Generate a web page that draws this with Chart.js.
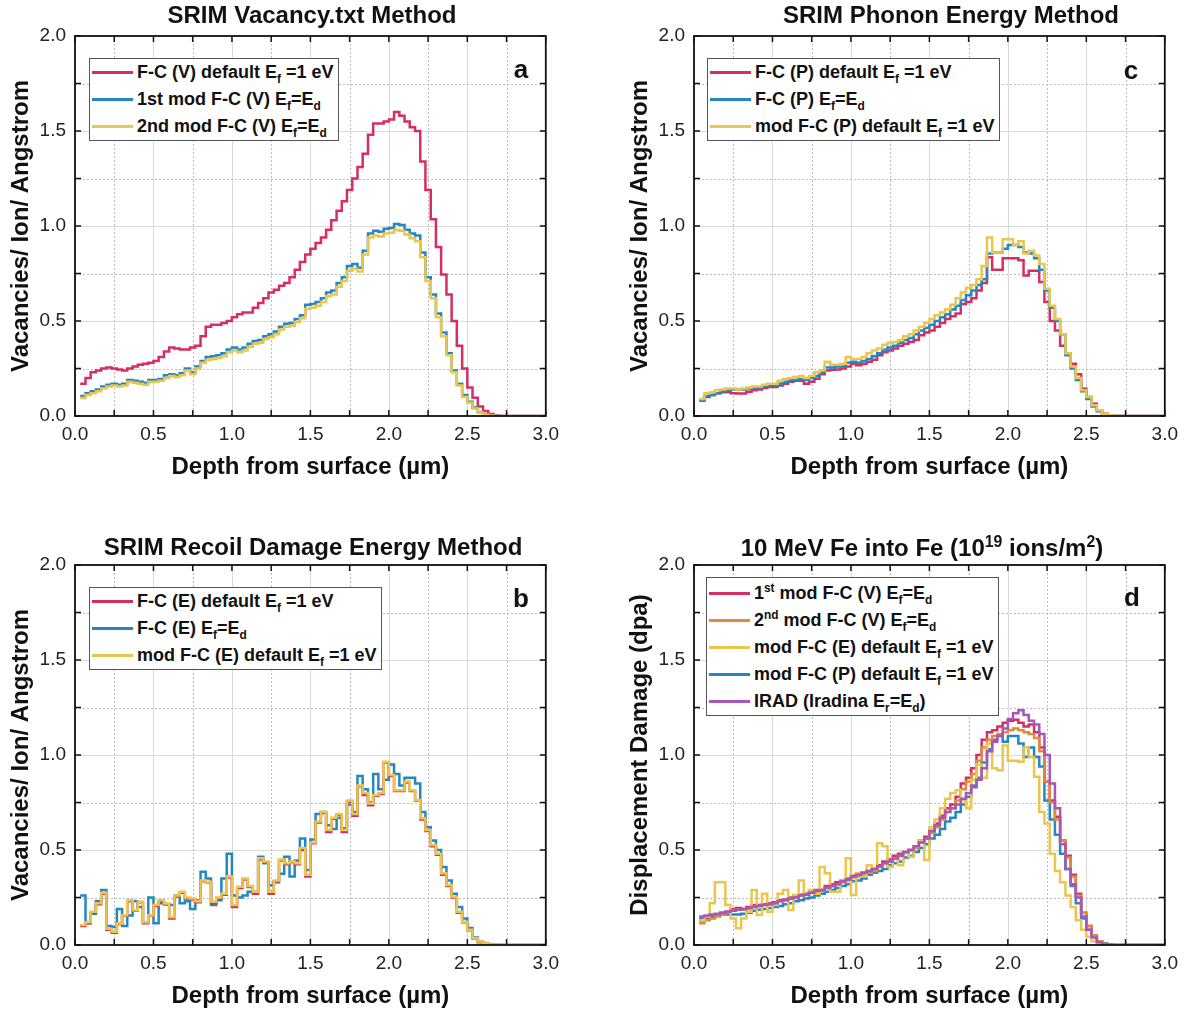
<!DOCTYPE html>
<html>
<head>
<meta charset="utf-8">
<script src="https://cdn.jsdelivr.net/npm/chart.js@4.4.1/dist/chart.umd.min.js"></script>
<style>
html, body { margin: 0; padding: 0; background: #fff; overflow: hidden; }
body { width: 1185px; height: 1014px; position: relative; font-family: "Liberation Sans", Arial, sans-serif; }
.panel { position: absolute; width: 566px; height: 485px; }
.panel canvas { position: absolute; left: 0; top: 0; }
.ptitle { position: absolute; font-weight: bold; font-size: 24px; color: #111; white-space: nowrap; transform: translate(-50%, -50%); }
.legend { position: absolute; border: 1px solid #555; background: #fff; box-sizing: border-box; padding-right: 4px; }
.row { height: 27px; display: flex; align-items: center; white-space: nowrap; font-weight: bold; font-size: 18px; color: #111; }
.sw { display: inline-block; width: 41px; height: 3px; margin: 0 4px 0 2px; flex: none; }
sub, sup { font-size: 66%; line-height: 0; }
.letter { position: absolute; font-weight: bold; font-size: 26px; color: #111; transform: translate(-50%, -50%); }
</style>
</head>
<body>
<div class="panel" id="pa" style="left:0;top:0"><canvas id="ca" width="566" height="485"></canvas></div>
<div class="panel" id="pc" style="left:619px;top:0"><canvas id="cc" width="566" height="485"></canvas></div>
<div class="panel" id="pb" style="left:0;top:529px"><canvas id="cb" width="566" height="485"></canvas></div>
<div class="panel" id="pd" style="left:619px;top:529px"><canvas id="cd" width="566" height="485"></canvas></div>

<script>
// depth bins (um), bin start values, last point closes the histogram at 3.0
const DEPTH = [
  0.033, 0.067, 0.100, 0.133, 0.167, 0.200, 0.233, 0.267, 0.300, 0.333,
  0.367, 0.400, 0.433, 0.467, 0.500, 0.533, 0.567, 0.600, 0.633, 0.667,
  0.700, 0.733, 0.767, 0.800, 0.833, 0.867, 0.900, 0.933, 0.967, 1.000,
  1.033, 1.067, 1.100, 1.133, 1.167, 1.200, 1.233, 1.267, 1.300, 1.333,
  1.367, 1.400, 1.433, 1.467, 1.500, 1.533, 1.567, 1.600, 1.633, 1.667,
  1.700, 1.733, 1.767, 1.800, 1.833, 1.867, 1.900, 1.933, 1.967, 2.000,
  2.033, 2.067, 2.100, 2.133, 2.167, 2.200, 2.233, 2.267, 2.300, 2.333,
  2.367, 2.400, 2.433, 2.467, 2.500, 2.533, 2.567, 2.600, 2.633, 2.667,
  2.700, 3.000
];

const X_LABELS = [0, 0.5, 1.0, 1.5, 2.0, 2.5, 3.0];
const Y_LABELS = [0, 0.5, 1.0, 1.5, 2.0];
const X_MINOR = [0.25, 0.75, 1.25, 1.75, 2.25, 2.75];
const Y_MINOR = [0.25, 0.75, 1.25, 1.75];

// a) SRIM Vacancy.txt
const A_DEFAULT = [
  0.17, 0.20, 0.23, 0.24, 0.25, 0.255, 0.25, 0.245, 0.24, 0.25,
  0.26, 0.27, 0.275, 0.28, 0.29, 0.31, 0.34, 0.36, 0.355, 0.35,
  0.35, 0.36, 0.37, 0.42, 0.47, 0.48, 0.48, 0.49, 0.50, 0.52,
  0.535, 0.545, 0.545, 0.57, 0.595, 0.62, 0.65, 0.665, 0.685, 0.70,
  0.73, 0.77, 0.81, 0.85, 0.88, 0.91, 0.94, 0.98, 1.03, 1.08,
  1.13, 1.19, 1.25, 1.31, 1.38, 1.48, 1.54, 1.54, 1.55, 1.56,
  1.60, 1.58, 1.55, 1.52, 1.50, 1.34, 1.19, 1.035, 0.89, 0.745,
  0.64, 0.50, 0.37, 0.25, 0.15, 0.096, 0.05, 0.026, 0.01, 0.003,
  0, 0
];
const A_MOD1 = [
  0.105, 0.12, 0.13, 0.14, 0.155, 0.165, 0.17, 0.165, 0.17, 0.19,
  0.185, 0.18, 0.175, 0.19, 0.19, 0.195, 0.215, 0.22, 0.215, 0.225,
  0.25, 0.23, 0.26, 0.29, 0.31, 0.315, 0.32, 0.33, 0.35, 0.36,
  0.35, 0.36, 0.38, 0.395, 0.40, 0.42, 0.43, 0.445, 0.47, 0.485,
  0.49, 0.51, 0.53, 0.585, 0.59, 0.60, 0.62, 0.65, 0.66, 0.70,
  0.73, 0.79, 0.80, 0.78, 0.87, 0.96, 0.975, 0.97, 0.985, 0.99,
  1.01, 1.005, 0.98, 0.96, 0.95, 0.86, 0.73, 0.64, 0.54, 0.44,
  0.33, 0.24, 0.17, 0.11, 0.075, 0.045, 0.02, 0.008, 0.002, 0,
  0, 0
];
const A_MOD2 = [
  0.095, 0.11, 0.12, 0.13, 0.145, 0.155, 0.16, 0.155, 0.16, 0.18,
  0.175, 0.17, 0.165, 0.18, 0.18, 0.185, 0.20, 0.21, 0.205, 0.215,
  0.24, 0.22, 0.25, 0.28, 0.295, 0.30, 0.305, 0.315, 0.335, 0.345,
  0.335, 0.345, 0.365, 0.38, 0.385, 0.405, 0.415, 0.43, 0.455, 0.47,
  0.475, 0.495, 0.515, 0.565, 0.57, 0.58, 0.60, 0.63, 0.64, 0.68,
  0.71, 0.765, 0.775, 0.76, 0.85, 0.94, 0.95, 0.945, 0.96, 0.965,
  0.98, 0.975, 0.955, 0.935, 0.92, 0.835, 0.71, 0.62, 0.52, 0.42,
  0.32, 0.23, 0.16, 0.10, 0.07, 0.04, 0.018, 0.007, 0.002, 0,
  0, 0
];

// c) SRIM phonon energy
const C_DEFAULT = [
  0.085, 0.10, 0.11, 0.12, 0.125, 0.126, 0.12, 0.118, 0.118, 0.128,
  0.135, 0.14, 0.148, 0.153, 0.153, 0.16, 0.17, 0.18, 0.185, 0.185,
  0.17, 0.18, 0.196, 0.22, 0.24, 0.244, 0.245, 0.25, 0.26, 0.275,
  0.267, 0.275, 0.285, 0.296, 0.32, 0.335, 0.345, 0.355, 0.37, 0.38,
  0.39, 0.40, 0.425, 0.44, 0.45, 0.47, 0.49, 0.51, 0.525, 0.54,
  0.59, 0.60, 0.62, 0.66, 0.70, 0.835, 0.77, 0.77, 0.83, 0.83,
  0.83, 0.82, 0.74, 0.765, 0.765, 0.705, 0.60, 0.50, 0.45, 0.37,
  0.33, 0.275, 0.22, 0.144, 0.10, 0.065, 0.03, 0.012, 0.004, 0,
  0, 0
];
const C_EFED = [
  0.08, 0.105, 0.11, 0.12, 0.13, 0.135, 0.14, 0.14, 0.14, 0.145,
  0.145, 0.15, 0.155, 0.16, 0.16, 0.17, 0.18, 0.19, 0.19, 0.195,
  0.19, 0.20, 0.21, 0.23, 0.255, 0.255, 0.26, 0.26, 0.28, 0.285,
  0.28, 0.29, 0.30, 0.315, 0.33, 0.35, 0.36, 0.37, 0.385, 0.40,
  0.41, 0.43, 0.45, 0.465, 0.48, 0.50, 0.52, 0.535, 0.56, 0.58,
  0.61, 0.635, 0.66, 0.69, 0.72, 0.855, 0.86, 0.86, 0.88, 0.90,
  0.90, 0.89, 0.86, 0.855, 0.83, 0.77, 0.66, 0.57, 0.50, 0.43,
  0.32, 0.25, 0.19, 0.13, 0.09, 0.05, 0.025, 0.01, 0.003, 0,
  0, 0
];
const C_MOD = [
  0.09, 0.12, 0.125, 0.135, 0.14, 0.145, 0.145, 0.14, 0.145, 0.15,
  0.155, 0.155, 0.165, 0.17, 0.17, 0.185, 0.195, 0.20, 0.205, 0.21,
  0.20, 0.21, 0.23, 0.24, 0.285, 0.27, 0.27, 0.275, 0.31, 0.30,
  0.30, 0.31, 0.33, 0.345, 0.355, 0.375, 0.385, 0.39, 0.40, 0.42,
  0.43, 0.45, 0.47, 0.49, 0.51, 0.53, 0.545, 0.56, 0.585, 0.62,
  0.65, 0.675, 0.69, 0.72, 0.79, 0.94, 0.86, 0.86, 0.93, 0.93,
  0.90, 0.92, 0.855, 0.87, 0.845, 0.80, 0.67, 0.58, 0.51, 0.43,
  0.33, 0.26, 0.20, 0.135, 0.10, 0.056, 0.03, 0.012, 0.004, 0,
  0, 0
];

// b) SRIM recoil damage energy
const B_DEFAULT = [
  0.10, 0.115, 0.17, 0.215, 0.27, 0.08, 0.065, 0.11, 0.155, 0.23,
  0.18, 0.225, 0.115, 0.155, 0.205, 0.23, 0.215, 0.14, 0.255, 0.275,
  0.245, 0.24, 0.225, 0.335, 0.33, 0.22, 0.245, 0.265, 0.355, 0.20,
  0.30, 0.345, 0.305, 0.27, 0.45, 0.435, 0.27, 0.335, 0.445, 0.425,
  0.435, 0.425, 0.50, 0.36, 0.535, 0.645, 0.695, 0.595, 0.665, 0.685,
  0.595, 0.755, 0.68, 0.835, 0.79, 0.735, 0.785, 0.795, 0.96, 0.89,
  0.81, 0.81, 0.855, 0.81, 0.76, 0.66, 0.60, 0.52, 0.475, 0.37,
  0.31, 0.25, 0.17, 0.12, 0.078, 0.034, 0.017, 0.008, 0.003, 0.001,
  0, 0
];
const B_EFED = [
  0.26, 0.115, 0.165, 0.23, 0.29, 0.10, 0.095, 0.19, 0.10, 0.155,
  0.23, 0.20, 0.12, 0.25, 0.115, 0.22, 0.215, 0.21, 0.26, 0.22,
  0.23, 0.19, 0.235, 0.385, 0.35, 0.21, 0.235, 0.35, 0.48, 0.26,
  0.25, 0.26, 0.28, 0.28, 0.465, 0.43, 0.315, 0.33, 0.375, 0.465,
  0.36, 0.445, 0.56, 0.395, 0.555, 0.69, 0.70, 0.63, 0.61, 0.67,
  0.615, 0.74, 0.70, 0.89, 0.82, 0.75, 0.90, 0.82, 0.87, 0.95,
  0.90, 0.84, 0.88, 0.88, 0.85, 0.70, 0.62, 0.55, 0.50, 0.41,
  0.34, 0.27, 0.20, 0.14, 0.09, 0.04, 0.015, 0.005, 0.002, 0,
  0, 0
];
const B_MOD = [
  0.105, 0.12, 0.175, 0.22, 0.275, 0.085, 0.07, 0.113, 0.157, 0.236,
  0.183, 0.227, 0.12, 0.157, 0.21, 0.236, 0.218, 0.148, 0.26, 0.28,
  0.25, 0.245, 0.23, 0.34, 0.333, 0.227, 0.25, 0.27, 0.36, 0.21,
  0.306, 0.35, 0.31, 0.28, 0.456, 0.44, 0.28, 0.34, 0.45, 0.43,
  0.44, 0.43, 0.51, 0.37, 0.54, 0.65, 0.70, 0.605, 0.67, 0.69,
  0.605, 0.76, 0.69, 0.84, 0.80, 0.745, 0.79, 0.80, 0.965, 0.895,
  0.815, 0.815, 0.86, 0.815, 0.763, 0.667, 0.605, 0.526, 0.48, 0.377,
  0.316, 0.254, 0.175, 0.123, 0.08, 0.035, 0.018, 0.008, 0.003, 0.001,
  0, 0
];

// d) 10 MeV Fe into Fe, dpa
const D_MOD1 = [
  0.13, 0.14, 0.15, 0.16, 0.17, 0.175, 0.19, 0.195, 0.19, 0.20,
  0.21, 0.21, 0.215, 0.22, 0.225, 0.235, 0.24, 0.25, 0.26, 0.265,
  0.27, 0.28, 0.29, 0.29, 0.31, 0.32, 0.33, 0.34, 0.35, 0.365,
  0.37, 0.38, 0.39, 0.40, 0.42, 0.44, 0.45, 0.47, 0.48, 0.49,
  0.50, 0.52, 0.55, 0.57, 0.60, 0.64, 0.68, 0.72, 0.74, 0.78,
  0.85, 0.88, 0.93, 1.00, 1.08, 1.12, 1.13, 1.15, 1.17, 1.18,
  1.185, 1.17, 1.15, 1.16, 1.12, 1.04, 0.86, 0.76, 0.675, 0.55,
  0.47, 0.37, 0.27, 0.17, 0.10, 0.05, 0.02, 0.006, 0.001, 0,
  0, 0
];
const D_MOD2 = [
  0.115, 0.13, 0.14, 0.15, 0.16, 0.17, 0.18, 0.185, 0.185, 0.19,
  0.20, 0.205, 0.21, 0.215, 0.22, 0.23, 0.235, 0.245, 0.25, 0.26,
  0.265, 0.275, 0.28, 0.285, 0.30, 0.31, 0.32, 0.33, 0.34, 0.355,
  0.36, 0.37, 0.38, 0.39, 0.41, 0.43, 0.44, 0.455, 0.47, 0.485,
  0.50, 0.51, 0.54, 0.56, 0.59, 0.62, 0.66, 0.70, 0.72, 0.76,
  0.82, 0.86, 0.90, 0.97, 1.04, 1.08, 1.10, 1.11, 1.12, 1.13,
  1.14, 1.13, 1.12, 1.11, 1.09, 1.02, 0.86, 0.75, 0.66, 0.55,
  0.46, 0.36, 0.26, 0.17, 0.10, 0.05, 0.02, 0.006, 0.001, 0,
  0, 0
];
const D_MODE = [
  0.13, 0.15, 0.22, 0.33, 0.33, 0.21, 0.14, 0.088, 0.14, 0.175,
  0.29, 0.158, 0.27, 0.175, 0.21, 0.27, 0.29, 0.184, 0.263, 0.34,
  0.263, 0.29, 0.27, 0.41, 0.377, 0.28, 0.28, 0.34, 0.456, 0.263,
  0.377, 0.36, 0.42, 0.40, 0.535, 0.52, 0.41, 0.456, 0.42, 0.49,
  0.465, 0.52, 0.55, 0.447, 0.62, 0.66, 0.72, 0.77, 0.80, 0.815,
  0.76, 0.72, 0.87, 0.95, 0.88, 1.06, 0.93, 0.92, 1.05, 0.97,
  0.97, 0.965, 1.04, 0.99, 0.885, 0.70, 0.64, 0.48, 0.39, 0.33,
  0.26, 0.20, 0.13, 0.08, 0.044, 0.02, 0.008, 0.002, 0, 0,
  0, 0
];
const D_MODP = [
  0.14, 0.145, 0.15, 0.155, 0.16, 0.16, 0.16, 0.16, 0.165, 0.17,
  0.18, 0.185, 0.19, 0.195, 0.20, 0.205, 0.215, 0.22, 0.23, 0.235,
  0.245, 0.25, 0.26, 0.27, 0.28, 0.29, 0.30, 0.31, 0.32, 0.335,
  0.34, 0.35, 0.37, 0.38, 0.39, 0.40, 0.42, 0.43, 0.44, 0.46,
  0.47, 0.49, 0.51, 0.53, 0.56, 0.58, 0.61, 0.65, 0.67, 0.70,
  0.74, 0.78, 0.83, 0.88, 0.96, 1.03, 1.08, 1.10, 1.07, 1.10,
  1.10, 1.06, 0.99, 1.04, 0.99, 0.94, 0.76, 0.66, 0.58, 0.48,
  0.40, 0.31, 0.22, 0.14, 0.08, 0.045, 0.02, 0.006, 0.001, 0,
  0, 0
];
const D_IRAD = [
  0.15, 0.155, 0.16, 0.165, 0.17, 0.175, 0.18, 0.185, 0.19, 0.195,
  0.20, 0.205, 0.21, 0.215, 0.22, 0.23, 0.235, 0.245, 0.25, 0.26,
  0.265, 0.275, 0.285, 0.29, 0.30, 0.31, 0.32, 0.335, 0.345, 0.36,
  0.37, 0.38, 0.39, 0.40, 0.415, 0.43, 0.44, 0.455, 0.47, 0.49,
  0.50, 0.52, 0.54, 0.56, 0.60, 0.63, 0.67, 0.70, 0.72, 0.74,
  0.77, 0.80, 0.84, 0.87, 0.93, 1.02, 1.07, 1.10, 1.14, 1.19,
  1.22, 1.235, 1.21, 1.18, 1.16, 1.11, 1.00, 0.85, 0.72, 0.53,
  0.40, 0.32, 0.25, 0.15, 0.08, 0.04, 0.015, 0.005, 0.001, 0,
  0, 0
];

const RED = '#d62e62';
const BLUE = '#2388c2';
const YELLOW = '#ebc54c';
const ORANGE = '#e08b3a';
const PURPLE = '#a657b9';

const LEGEND_A = ['F-C (V) default E<sub>f</sub> =1 eV', '1st mod F-C (V) E<sub>f</sub>=E<sub>d</sub>', '2nd mod F-C (V) E<sub>f</sub>=E<sub>d</sub>'];
const LEGEND_C = ['F-C (P) default E<sub>f</sub> =1 eV', 'F-C (P) E<sub>f</sub>=E<sub>d</sub>', 'mod F-C (P) default E<sub>f</sub> =1 eV'];
const LEGEND_B = ['F-C (E) default E<sub>f</sub> =1 eV', 'F-C (E) E<sub>f</sub>=E<sub>d</sub>', 'mod F-C (E) default E<sub>f</sub> =1 eV'];
const LEGEND_D = ['1<sup>st</sup> mod F-C (V) E<sub>f</sub>=E<sub>d</sub>', '2<sup>nd</sup> mod F-C (V) E<sub>f</sub>=E<sub>d</sub>',
  'mod F-C (E) default E<sub>f</sub> =1 eV', 'mod F-C (P) default E<sub>f</sub> =1 eV', 'IRAD (Iradina E<sub>r</sub>=E<sub>d</sub>)'];

Chart.defaults.font.family = '"Liberation Sans", Arial, sans-serif';

const isHalf = v => Math.abs(v * 2 - Math.round(v * 2)) < 1e-9;

// grid (solid major, dotted minor), frame and inward ticks
const framePlugin = {
  id: 'frame',
  beforeDatasetsDraw(chart) {
    const { ctx, chartArea: a, scales: { x, y } } = chart;
    ctx.save();
    ctx.lineWidth = 1;
    const vline = v => { const px = Math.round(x.getPixelForValue(v)) + 0.5; ctx.beginPath(); ctx.moveTo(px, a.top); ctx.lineTo(px, a.bottom); ctx.stroke(); };
    const hline = v => { const py = Math.round(y.getPixelForValue(v)) + 0.5; ctx.beginPath(); ctx.moveTo(a.left, py); ctx.lineTo(a.right, py); ctx.stroke(); };
    ctx.strokeStyle = '#dadada';
    ctx.setLineDash([]);
    X_LABELS.slice(1, -1).forEach(vline);
    Y_LABELS.slice(1, -1).forEach(hline);
    ctx.strokeStyle = '#bdbdbd';
    ctx.setLineDash([2, 2]);
    X_MINOR.forEach(vline);
    Y_MINOR.forEach(hline);
    ctx.restore();
  },
  afterDatasetsDraw(chart) {
    const { ctx, chartArea: a, scales: { x, y } } = chart;
    ctx.save();
    ctx.strokeStyle = '#111';
    ctx.lineWidth = 1.5;
    const len = 6;
    X_LABELS.concat(X_MINOR).forEach(v => {
      const px = x.getPixelForValue(v);
      ctx.beginPath();
      ctx.moveTo(px, a.bottom); ctx.lineTo(px, a.bottom - len);
      ctx.moveTo(px, a.top); ctx.lineTo(px, a.top + len);
      ctx.stroke();
    });
    Y_LABELS.concat(Y_MINOR).forEach(v => {
      const py = y.getPixelForValue(v);
      ctx.beginPath();
      ctx.moveTo(a.left, py); ctx.lineTo(a.left + len, py);
      ctx.moveTo(a.right, py); ctx.lineTo(a.right - len, py);
      ctx.stroke();
    });
    ctx.lineWidth = 1.8;
    ctx.strokeRect(a.left, a.top, a.right - a.left, a.bottom - a.top);
    ctx.restore();
  }
};

function series(vals, color, order) {
  return {
    data: DEPTH.map((d, i) => ({ x: d, y: vals[i] })),
    borderColor: color, borderWidth: 2.5, stepped: true,
    pointRadius: 0, fill: false, order
  };
}

function makeChart(canvasId, datasets, yTitle) {
  const tickOpts = {
    stepSize: 0.25, autoSkip: false, maxRotation: 0, minRotation: 0,
    font: { size: 19 }, color: '#222',
    callback: v => isHalf(v) ? v.toFixed(1) : ''
  };
  return new Chart(document.getElementById(canvasId), {
    type: 'line',
    data: { datasets },
    options: {
      responsive: false, animation: false, devicePixelRatio: 1,
      layout: { padding: { left: 0, right: 20, top: 36, bottom: 0 } },
      plugins: { legend: { display: false }, tooltip: { enabled: false } },
      scales: {
        x: {
          type: 'linear', min: 0, max: 3,
          afterFit: s => { s.height = 69; },
          ticks: { ...tickOpts, padding: 7 },
          grid: { display: false, drawTicks: false }, border: { display: false },
          title: { display: true, text: 'Depth from surface (µm)', color: '#111',
                   font: { size: 24, weight: 'bold' }, padding: { top: 0, bottom: 3 } }
        },
        y: {
          type: 'linear', min: 0, max: 2,
          afterFit: s => { s.width = 75; },
          ticks: { ...tickOpts, padding: 9 },
          grid: { display: false, drawTicks: false }, border: { display: false },
          title: { display: true, text: yTitle, color: '#111',
                   font: { size: 24, weight: 'bold' }, padding: { top: 7, bottom: 0 } }
        }
      }
    },
    plugins: [framePlugin]
  });
}

function decorate(panelId, title, titlePos, letter, letterPos, legend, colors, box) {
  const p = document.getElementById(panelId);
  const t = document.createElement('div');
  t.className = 'ptitle';
  t.innerHTML = title;
  t.style.left = titlePos[0] + 'px';
  t.style.top = titlePos[1] + 'px';
  p.appendChild(t);
  const l = document.createElement('div');
  l.className = 'letter';
  l.textContent = letter;
  l.style.left = letterPos[0] + 'px';
  l.style.top = letterPos[1] + 'px';
  p.appendChild(l);
  const lg = document.createElement('div');
  lg.className = 'legend';
  lg.style.left = box[0] + 'px';
  lg.style.top = box[1] + 'px';
  lg.style.minWidth = box[2] + 'px';
  lg.style.paddingTop = (box[3] || 0) + 'px';
  legend.forEach((txt, i) => {
    const r = document.createElement('div');
    r.className = 'row';
    r.innerHTML = '<span class="sw" style="background:' + colors[i] + '"></span><span>' + txt + '</span>';
    lg.appendChild(r);
  });
  p.appendChild(lg);
}

const VAC = 'Vacancies/ Ion/ Angstrom';

makeChart('ca', [series(A_DEFAULT, RED, 3), series(A_MOD1, BLUE, 2), series(A_MOD2, YELLOW, 1)], VAC);
makeChart('cc', [series(C_DEFAULT, RED, 3), series(C_EFED, BLUE, 2), series(C_MOD, YELLOW, 1)], VAC);
makeChart('cb', [series(B_DEFAULT, RED, 2), series(B_EFED, BLUE, 3), series(B_MOD, YELLOW, 1)], VAC);
makeChart('cd', [series(D_MOD1, RED, 5), series(D_MOD2, ORANGE, 3), series(D_MODE, YELLOW, 2),
                 series(D_MODP, BLUE, 4), series(D_IRAD, PURPLE, 1)], 'Displacement Damage (dpa)');

decorate('pa', 'SRIM Vacancy.txt Method', [312, 15], 'a', [521, 69], LEGEND_A, [RED, BLUE, YELLOW], [89, 58, 246, 0]);
decorate('pc', 'SRIM Phonon Energy Method', [332, 15], 'c', [512, 70], LEGEND_C, [RED, BLUE, YELLOW], [88, 58, 285, 0]);
decorate('pb', 'SRIM Recoil Damage Energy Method', [313, 18], 'b', [521, 69], LEGEND_B, [RED, BLUE, YELLOW], [89, 58, 290, 0]);
decorate('pd', '10 MeV Fe into Fe (10<sup>19</sup> ions/m<sup>2</sup>)', [303, 19], 'd', [513, 68], LEGEND_D,
         [RED, ORANGE, YELLOW, BLUE, PURPLE], [87, 48, 283, 2]);
</script>
</body>
</html>
